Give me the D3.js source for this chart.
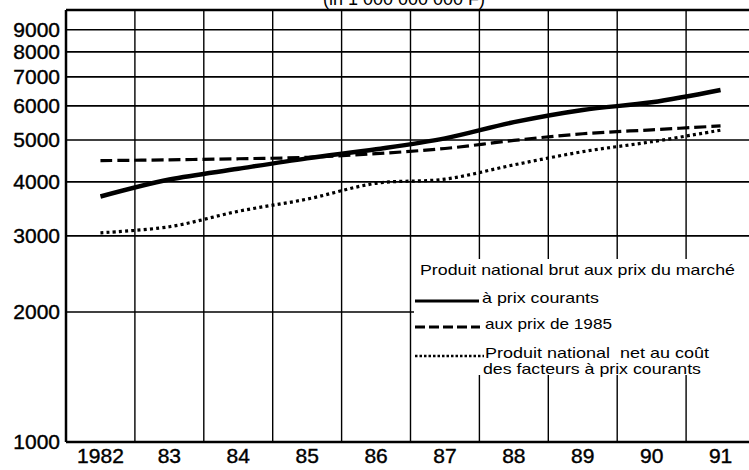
<!DOCTYPE html>
<html>
<head>
<meta charset="utf-8">
<script src="https://cdn.jsdelivr.net/npm/d3@7"></script>
<style>
  body { margin: 0; background: #fff; }
  svg { display: block; font-family: "Liberation Sans", Arial, sans-serif; }
</style>
</head>
<body>
<div id="chart"></div>
<script>
// data (milliards de F)
var years = [1982, 1983, 1984, 1985, 1986, 1987, 1988, 1989, 1990, 1991];
var yearLabels = ["1982", "83", "84", "85", "86", "87", "88", "89", "90", "91"];
var prixCourants = [3700, 4050, 4290, 4535, 4760, 5045, 5500, 5870, 6115, 6530];
var prix1985 = [4480, 4500, 4525, 4560, 4650, 4780, 4990, 5170, 5280, 5390];
var netFacteurs = [3050, 3150, 3420, 3650, 3970, 4060, 4380, 4700, 4955, 5270];
var yTicks = [1000, 2000, 3000, 4000, 5000, 6000, 7000, 8000, 9000];

var W = 749, H = 470;
var margin = { left: 66, top: 10, bottom: 442, right: 755 };

var svg = d3.select("#chart").append("svg")
    .attr("width", W)
    .attr("height", H);

var x = d3.scaleBand()
    .domain(years)
    .range([margin.left, margin.right]);

var y = d3.scaleLog()
    .domain([1000, 10000])
    .range([margin.bottom, margin.top]);

// title, cut off at the top of the scan
svg.append("text")
    .attr("x", 404)
    .attr("y", 5)
    .attr("text-anchor", "middle")
    .style("font-size", "18px")
    .text("(in 1 000 000 000 F)");

// horizontal grid
svg.append("g")
    .selectAll("line")
    .data(yTicks.concat([10000]))
    .enter().append("line")
    .attr("x1", margin.left)
    .attr("x2", W)
    .attr("y1", function (d) { return y(d); })
    .attr("y2", function (d) { return y(d); })
    .attr("stroke", "#000")
    .attr("stroke-width", function (d) { return d == 10000 || d == 1000 ? 2.5 : 1.6; });

// vertical grid at band edges
svg.append("g")
    .selectAll("line")
    .data(years)
    .enter().append("line")
    .attr("x1", function (d) { return x(d); })
    .attr("x2", function (d) { return x(d); })
    .attr("y1", margin.top)
    .attr("y2", margin.bottom)
    .attr("stroke", "#000")
    .attr("stroke-width", function (d, i) { return i == 0 ? 2.5 : 1.4; });

// legend box blanks the grid behind it
svg.append("rect")
    .attr("x", 414)
    .attr("y", 259)
    .attr("width", W - 414)
    .attr("height", 116)
    .attr("fill", "#fff");

// y axis labels
var yAxis = svg.append("g")
    .attr("transform", "translate(" + margin.left + ",0)")
    .call(d3.axisLeft(y).tickValues(yTicks).tickSize(0).tickPadding(6).tickFormat(d3.format("d")));
yAxis.select(".domain").remove();
yAxis.selectAll("text")
    .style("font-size", "21px")
    .style("font-family", "Liberation Sans, Arial, sans-serif")
    .attr("fill", "#000")
    .attr("stroke", "#000")
    .attr("stroke-width", 0.4);

// x axis labels
var xAxis = svg.append("g")
    .attr("transform", "translate(0," + margin.bottom + ")")
    .call(d3.axisBottom(x).tickSize(0).tickFormat(function (d, i) { return yearLabels[i]; }));
xAxis.select(".domain").remove();
xAxis.selectAll("text")
    .attr("y", 21)
    .attr("dy", 0)
    .style("font-size", "21px")
    .style("font-family", "Liberation Sans, Arial, sans-serif")
    .attr("fill", "#000")
    .attr("stroke", "#000")
    .attr("stroke-width", 0.4);

var line = d3.line()
    .x(function (d, i) { return x(years[i]) + x.bandwidth() / 2; })
    .y(function (d) { return y(d); })
    .curve(d3.curveCatmullRom);

var series = [
    { values: netFacteurs, width: 3.2, dash: "3,3.2" },
    { values: prix1985, width: 3.2, dash: "12,5" },
    { values: prixCourants, width: 4.5, dash: null }
];

series.forEach(function (s) {
    svg.append("path")
        .datum(s.values)
        .attr("fill", "none")
        .attr("stroke", "#000")
        .attr("stroke-width", s.width)
        .attr("stroke-dasharray", s.dash)
        .attr("d", line);
});

// legend
var lg = svg.append("g").style("font-size", "14.5px");
lg.append("text")
    .attr("x", 420).attr("y", 275)
    .attr("textLength", 315).attr("lengthAdjust", "spacingAndGlyphs")
    .text("Produit national brut aux prix du marché");

var items = [
    { y: 301, x2: 479, width: 3, dash: null, lines: ["à prix courants"], tx: 482, len: [117] },
    { y: 327, x2: 480, width: 3, dash: "10,4", lines: ["aux prix de 1985"], tx: 485, len: [127] },
    { y: 356, x2: 484, width: 2.4, dash: "2.5,2", lines: ["Produit national  net au coût", "des facteurs à prix courants"], tx: 485, len: [224, 218] }
];
items.forEach(function (it) {
    lg.append("line")
        .attr("x1", 415).attr("x2", it.x2)
        .attr("y1", it.y).attr("y2", it.y)
        .attr("stroke", "#000")
        .attr("stroke-width", it.width)
        .attr("stroke-dasharray", it.dash);
    it.lines.forEach(function (t, i) {
        lg.append("text")
            .attr("x", it.tx - i * 2)
            .attr("y", it.y + 2 + i * 16)
            .attr("textLength", it.len[i]).attr("lengthAdjust", "spacingAndGlyphs")
            .style("white-space", "pre")
            .text(t);
    });
});
</script>
</body>
</html>
